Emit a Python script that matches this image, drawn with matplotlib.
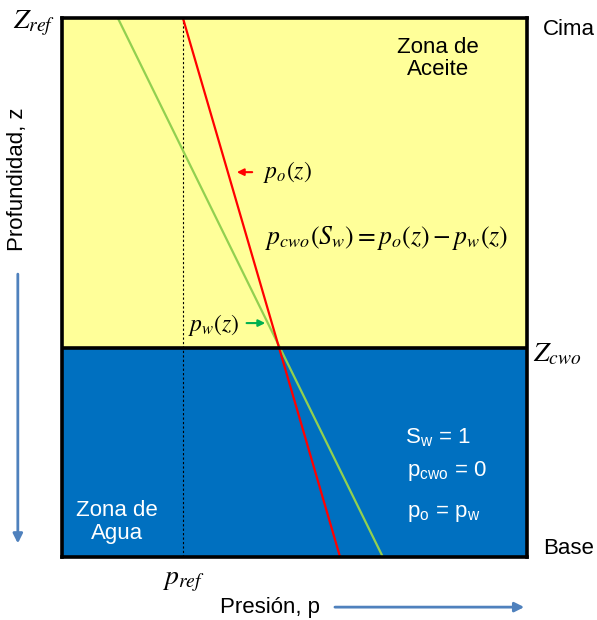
import matplotlib.pyplot as plt
import numpy as np

plt.rcParams['font.family'] = 'Liberation Sans'
plt.rcParams['mathtext.fontset'] = 'stix'

# depth (0 = top / z_ref, 1 = base) and pressure (0..1 of the box width)
depth = [0.0, 1.0]
p_oil = [0.260, 0.598]
p_water = [0.120, 0.690]
z_cwo = 0.612
p_ref = 0.260

yellow = '#FFFF99'
blue = '#0070C0'
arrow_blue = '#4F81BD'

fig = plt.figure(figsize=(5.97, 6.20), dpi=100)
ax = fig.add_axes([62/597, 1 - 557/620, 465/597, 539/620])
ax.set_xlim(0, 1)
ax.set_ylim(1, 0)

# zones
ax.axhspan(0, z_cwo, color=yellow, zorder=0)
ax.axhspan(z_cwo, 1, color=blue, zorder=0)
ax.axhline(z_cwo, color='black', lw=2.6, zorder=3)

# reference pressure
ax.axvline(p_ref, color='black', lw=0.8, ls=(0, (2, 2)), zorder=1)

# pressure gradients
ax.plot(p_water, depth, color='#92D050', lw=1.6, zorder=2)
ax.plot(p_oil, depth, color='#FF0000', lw=1.6, zorder=2)

for s in ax.spines.values():
    s.set_linewidth(2.6)
ax.set_xticks([])
ax.set_yticks([])

fs = 16
ax.text(0.809, 0.075, 'Zona de\nAceite', ha='center', va='center', fontsize=fs, linespacing=1.1)
ax.text(0.118, 0.935, 'Zona de\nAgua', ha='center', va='center', fontsize=fs, color='white', linespacing=1.1)
ax.text(0.738, 0.778, r'S$_\mathregular{w}$ = 1', fontsize=fs, color='white', va='center')
ax.text(0.742, 0.84, r'p$_\mathregular{cwo}$ = 0', fontsize=fs, color='white', va='center')
ax.text(0.742, 0.92, r'p$_\mathregular{o}$ = p$_\mathregular{w}$', fontsize=fs, color='white', va='center')

ax.text(1.034, 0.022, 'Cima', fontsize=fs, va='center', clip_on=False)
ax.text(1.034, 0.985, 'Base', fontsize=fs, va='center', clip_on=False)

# math labels
ax.text(-0.060, 0.01, r'$Z_{ref}$', fontsize=20, ha='center', va='center', clip_on=False)
ax.text(1.013, 0.625, r'$Z_{cwo}$', fontsize=20, ha='left', va='center', clip_on=False)
ax.text(p_ref, 1.045, r'$p_{ref}$', fontsize=20, ha='center', va='center', clip_on=False)

ax.text(0.432, 0.286, r'$p_o\left(z\right)$', fontsize=17, va='center')
ax.annotate('', xy=(0.370, 0.286), xytext=(0.415, 0.286),
            arrowprops=dict(arrowstyle='-|>', color='#FF0000', lw=1.5, mutation_scale=10))
ax.text(0.437, 0.408, r'$p_{cwo}\left(S_w\right) = p_o\left(z\right) - p_w\left(z\right)$',
        fontsize=18.5, va='center')
ax.text(0.271, 0.57, r'$p_w\left(z\right)$', fontsize=17, va='center')
ax.annotate('', xy=(0.443, 0.566), xytext=(0.391, 0.566),
            arrowprops=dict(arrowstyle='-|>', color='#00B050', lw=1.5, mutation_scale=10))

# axis direction labels
ax.text(-0.095, 0.3, 'Profundidad, z', fontsize=fs, rotation=90, ha='center', va='center', clip_on=False)
ax.annotate('', xy=(-0.095, 0.98), xytext=(-0.095, 0.47), annotation_clip=False,
            arrowprops=dict(arrowstyle='-|>', color=arrow_blue, lw=2, mutation_scale=14))
ax.text(0.447, 1.093, 'Presión, p', fontsize=fs, ha='center', va='center', clip_on=False)
ax.annotate('', xy=(1.0, 1.093), xytext=(0.581, 1.093), annotation_clip=False,
            arrowprops=dict(arrowstyle='-|>', color=arrow_blue, lw=2, mutation_scale=14))

plt.savefig('out.png', dpi=100)
